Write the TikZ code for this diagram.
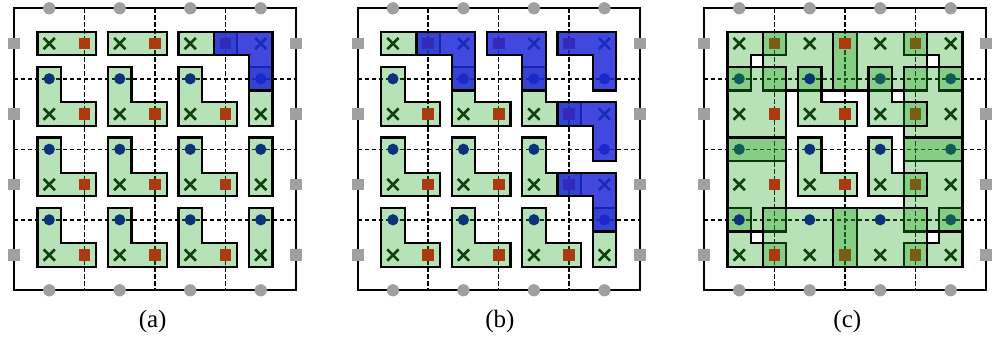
\documentclass[tikz,border=0pt]{standalone}
\usepackage{fontspec}
\setmainfont{Liberation Serif}
\definecolor{tilegreen}{RGB}{35,165,35}
\definecolor{tileblue}{RGB}{30,40,215}
\definecolor{mred}{RGB}{172,58,16}
\definecolor{molive}{RGB}{121,92,22}
\definecolor{mnavy}{RGB}{12,50,122}
\definecolor{mteal}{RGB}{18,92,88}
\definecolor{mxcol}{RGB}{15,65,15}
\definecolor{mgray}{RGB}{160,160,160}
\tikzset{
  gtile/.style={fill=tilegreen, fill opacity=0.33, draw=black, line width=1.1pt, line join=miter},
  btile/.style={fill=tileblue, fill opacity=0.85, draw=black, line width=1.1pt, line join=miter},
  gridline/.style={draw=black, line width=0.75pt, dash pattern=on 2.2pt off 1.3pt},
  frameline/.style={draw=black, line width=0.85pt},
  xmark/.style={draw=mxcol, line width=1.3pt},
  caption/.style={font=\fontsize{12.5}{14}\selectfont, inner sep=0pt}
}
\newcommand{\tileL}[2]{\filldraw[gtile] ({6*#1+2},{6*#2-1}) -- ({6*#1+4},{6*#2-1}) -- ({6*#1+4},{6*#2+2}) -- ({6*#1+7},{6*#2+2}) -- ({6*#1+7},{6*#2+4}) -- ({6*#1+2},{6*#2+4}) -- cycle;}
\newcommand{\tileBar}[2]{\filldraw[gtile] ({6*#1+2},{6*#2+2}) rectangle ({6*#1+7},{6*#2+4});}
\newcommand{\tileCol}[2]{\filldraw[gtile] ({6*#1+2},{6*#2-1}) rectangle ({6*#1+4},{6*#2+4});}
\newcommand{\tileBlue}[2]{\filldraw[btile] ({6*#1-1},{6*#2+2}) -- ({6*#1+4},{6*#2+2}) -- ({6*#1+4},{6*#2+7}) -- ({6*#1+2},{6*#2+7}) -- ({6*#1+2},{6*#2+4}) -- ({6*#1-1},{6*#2+4}) -- cycle;}
\newcommand{\mksq}[3]{\fill[#3] ({#1-0.5},{#2-0.5}) rectangle ({#1+0.5},{#2+0.5});}
\newcommand{\mkdot}[3]{\fill[#3] (#1,#2) circle (0.48);}
\newcommand{\mkx}[2]{\draw[xmark] ({#1-0.48},{#2-0.48}) -- ({#1+0.48},{#2+0.48}) ({#1-0.48},{#2+0.48}) -- ({#1+0.48},{#2-0.48});}
\newcommand{\panelframe}{%
  \draw[gridline] (6,0) -- (6,24) (12,0) -- (12,24) (18,0) -- (18,24)
                  (0,6) -- (24,6) (0,12) -- (24,12) (0,18) -- (24,18);
  \draw[frameline] (0,0) rectangle (24,24);}
\newcommand{\panelgray}{%
  \foreach \k in {3,9,15,21} {
    \fill[mgray] (\k,0) circle (0.52);
    \fill[mgray] (\k,24) circle (0.52);
    \fill[mgray] (-0.5,\k-0.5) rectangle (0.5,\k+0.5);
    \fill[mgray] (23.5,\k-0.5) rectangle (24.5,\k+0.5);
  }}
\newcommand{\stdmarkers}{%
  \foreach \a in {3,9,15,21} { \foreach \b in {3,9,15,21} { \mkx{\a}{\b} } }
  \foreach \a in {6,12,18} { \foreach \b in {3,9,15,21} { \mksq{\a}{\b}{mred} } }
  \foreach \a in {3,9,15,21} { \foreach \b in {6,12,18} { \mkdot{\a}{\b}{mnavy} } }}
\begin{document}
\begin{tikzpicture}[x=5.875pt, y=-5.875pt]
\useasboundingbox (-1.191,-0.706) rectangle (83.49,28.31);
% ---------- panel (a)
\begin{scope}
  \panelframe
  \tileBar{0}{0} \tileBar{1}{0} \tileBar{2}{0}
  \foreach \r in {1,2,3} { \tileL{0}{\r} \tileL{1}{\r} \tileL{2}{\r} \tileCol{3}{\r} }
  \stdmarkers
  \tileBlue{3}{0}
  \panelgray
  \node[caption] (capa) at (11.8,26.67) {(a)};
\end{scope}
% ---------- panel (b)
\begin{scope}[shift={(29.25,0)}]
  \panelframe
  \tileBar{0}{0}
  \foreach \r in {1,2,3} { \tileL{0}{\r} \tileL{1}{\r} \tileL{2}{\r} }
  \tileCol{3}{3}
  \stdmarkers
  \tileBlue{1}{0} \tileBlue{2}{0} \tileBlue{3}{0} \tileBlue{3}{1} \tileBlue{3}{2}
  \panelgray
  \node[caption] (capb) at (12.1,26.67) {(b)};
\end{scope}
% ---------- panel (c)
\begin{scope}[shift={(58.72,0)}]
  \panelframe
  \filldraw[gtile] (2,2) -- (7,2) -- (7,4) -- (4,4) -- (4,7) -- (2,7) -- cycle;
  \filldraw[gtile] (17,2) -- (22,2) -- (22,7) -- (20,7) -- (20,4) -- (17,4) -- cycle;
  \filldraw[gtile] (2,17) -- (4,17) -- (4,20) -- (7,20) -- (7,22) -- (2,22) -- cycle;
  \filldraw[gtile] (20,17) -- (22,17) -- (22,22) -- (17,22) -- (17,20) -- (20,20) -- cycle;
  \filldraw[gtile] (5,2) rectangle (13,7);
  \filldraw[gtile] (11,2) rectangle (19,7);
  \filldraw[gtile] (2,5) rectangle (7,13);
  \filldraw[gtile] (2,11) rectangle (7,19);
  \filldraw[gtile] (17,5) rectangle (22,13);
  \filldraw[gtile] (17,11) rectangle (22,19);
  \filldraw[gtile] (5,17) rectangle (13,22);
  \filldraw[gtile] (11,17) rectangle (19,22);
  \tileL{1}{1} \tileL{2}{1} \tileL{1}{2} \tileL{2}{2}
  \foreach \a in {3,9,15,21} { \foreach \b in {3,9,15,21} { \mkx{\a}{\b} } }
  \mksq{6}{3}{molive} \mksq{12}{3}{mred} \mksq{18}{3}{molive}
  \mksq{6}{9}{mred} \mksq{12}{9}{mred} \mksq{18}{9}{molive}
  \mksq{6}{15}{mred} \mksq{12}{15}{mred} \mksq{18}{15}{molive}
  \mksq{6}{21}{mred} \mksq{12}{21}{molive} \mksq{18}{21}{molive}
  \mkdot{3}{6}{mteal} \mkdot{9}{6}{mnavy} \mkdot{15}{6}{mteal} \mkdot{21}{6}{mteal}
  \mkdot{3}{12}{mteal} \mkdot{9}{12}{mnavy} \mkdot{15}{12}{mnavy} \mkdot{21}{12}{mteal}
  \mkdot{3}{18}{mnavy} \mkdot{9}{18}{mnavy} \mkdot{15}{18}{mnavy} \mkdot{21}{18}{mteal}
  \panelgray
  \node[caption] (capc) at (12.2,26.67) {(c)};
\end{scope}
\end{tikzpicture}
\end{document}
